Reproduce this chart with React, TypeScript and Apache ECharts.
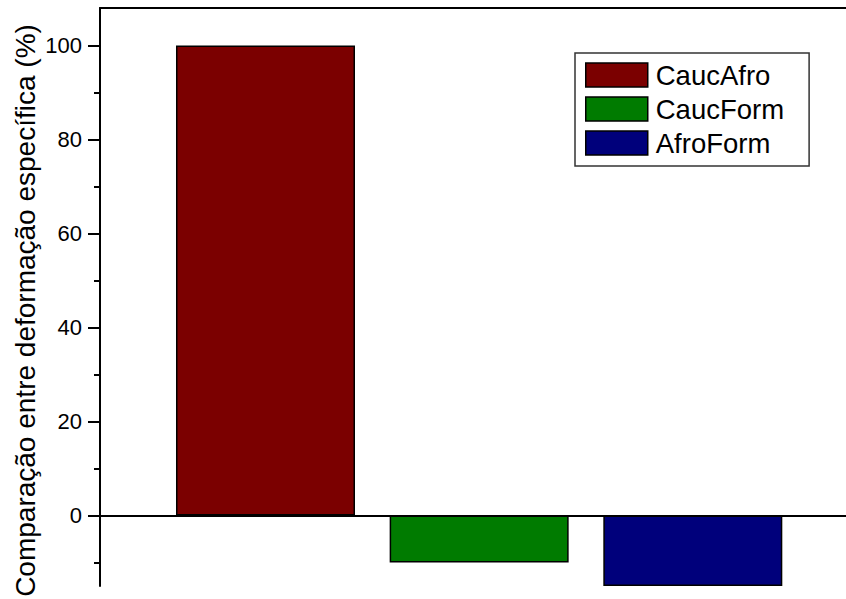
import React, { useEffect, useRef } from "react";
import * as echarts from "echarts";

// Series names, positions along the hidden x scale, and values (%)
const seriesNames = ["CaucAfro", "CaucForm", "AfroForm"];
const seriesX = [1, 2, 3];
const seriesValues = [100, -10, -15];
const seriesColors = ["#7b0000", "#007b00", "#00007b"];

// Y axis ticks and title
const majorTicks = [0, 20, 40, 60, 80, 100];
const minorTicks = [-10, 10, 30, 50, 70, 90];
const yMin = -15;
const yMax = 108;
const yTitle = "Comparação entre deformação específica (%)";

const FONT = "Arial, 'Liberation Sans', sans-serif";

export default function App() {
  const ref = useRef<HTMLDivElement>(null);

  useEffect(() => {
    if (!ref.current) return;
    const chart = echarts.init(ref.current, undefined, { renderer: "svg" });

    const series = seriesNames.map((name, i) => ({
      name,
      type: "bar" as const,
      data: [[seriesX[i], seriesValues[i]]],
      barWidth: 179,
      barGap: "-100%",
      itemStyle: { color: seriesColors[i], borderColor: "#000", borderWidth: 1.5 },
      xAxisIndex: 0,
      yAxisIndex: 0,
    }));

    chart.setOption({
      animation: false,
      backgroundColor: "#fff",
      textStyle: { fontFamily: FONT },
      grid: {
        left: 100,
        right: 0,
        top: 8,
        bottom: 13,
        containLabel: false,
        outerBoundsMode: "none",
      },
      // Rotated y-axis title, placed a little below the axis midpoint
      graphic: [
        {
          type: "text",
          x: 25.3,
          y: 310.5,
          rotation: Math.PI / 2,
          style: {
            text: yTitle,
            fontSize: 28,
            fontFamily: FONT,
            fill: "#000",
            align: "center",
            verticalAlign: "middle",
          },
        },
      ],
      legend: {
        orient: "vertical",
        left: 575,
        top: 53,
        padding: [8, 25, 9, 10],
        itemWidth: 62,
        itemHeight: 24,
        itemGap: 6,
        icon: "rect",
        borderColor: "#333",
        borderWidth: 1.5,
        backgroundColor: "#fff",
        itemStyle: { borderColor: "#000", borderWidth: 1.5 },
        textStyle: {
          fontSize: 27.5,
          color: "#000",
          fontFamily: FONT,
          padding: [0, 0, 0, 3],
        },
        data: seriesNames,
      },
      xAxis: [
        {
          type: "value",
          min: 0.2254,
          max: 3.717,
          axisLine: { show: true, onZero: true, lineStyle: { color: "#000", width: 2 } },
          axisTick: { show: false },
          axisLabel: { show: false },
          splitLine: { show: false },
        },
        {
          type: "value",
          position: "top",
          min: 0.2254,
          max: 3.717,
          axisLine: { show: true, onZero: false, lineStyle: { color: "#000", width: 2 } },
          axisTick: { show: false },
          axisLabel: { show: false },
          splitLine: { show: false },
        },
      ],
      yAxis: [
        {
          type: "value",
          min: yMin,
          max: yMax,
          axisLine: { show: true, lineStyle: { color: "#000", width: 2 } },
          axisTick: {
            show: true,
            inside: false,
            length: 12,
            customValues: majorTicks,
            lineStyle: { color: "#000", width: 2 },
          },
          axisLabel: {
            show: true,
            margin: 18,
            fontSize: 22,
            color: "#000",
            fontFamily: FONT,
            customValues: majorTicks,
          },
          splitLine: { show: false },
        },
        {
          type: "value",
          position: "left",
          min: yMin,
          max: yMax,
          axisLine: { show: false },
          axisTick: {
            show: true,
            inside: false,
            length: 6,
            customValues: minorTicks,
            lineStyle: { color: "#000", width: 2 },
          },
          axisLabel: { show: false },
          splitLine: { show: false },
        },
      ],
      series,
    });

    return () => chart.dispose();
  }, []);

  return (
    <div
      ref={ref}
      style={{ position: "fixed", left: 0, top: 0, width: 846, height: 599, background: "#fff" }}
    />
  );
}
